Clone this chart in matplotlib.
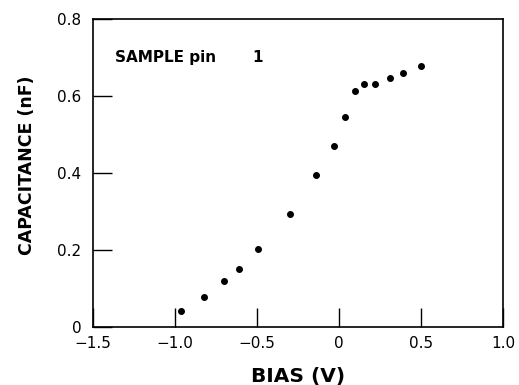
import numpy as np
import matplotlib.pyplot as plt

# data
bias = [-0.96, -0.82, -0.70, -0.61, -0.49, -0.30, -0.14, -0.03, 0.04,
        0.10, 0.15, 0.22, 0.31, 0.39, 0.50]
capacitance = [0.043, 0.080, 0.120, 0.151, 0.203, 0.294, 0.395, 0.472, 0.547,
               0.613, 0.632, 0.633, 0.648, 0.661, 0.679]

xticks = [-1.5, -1.0, -0.5, 0, 0.5, 1.0]
xticklabels = ['\u22121.5', '\u22121.0', '\u22120.5', '0', '0.5', '1.0']
yticks = [0, 0.2, 0.4, 0.6, 0.8]
yticklabels = ['0', '0.2', '0.4', '0.6', '0.8']

fig = plt.figure(figsize=(5.19, 3.85), dpi=100)
ax = fig.add_axes([0.1786, 0.1494, 0.7906, 0.8004])

ax.plot(bias, capacitance, 'o', color='black', markersize=4)

ax.set_xlim(-1.5, 1.0)
ax.set_ylim(0, 0.8)
ax.set_xticks(xticks)
ax.set_xticklabels(xticklabels, fontsize=11)
ax.set_yticks(yticks)
ax.set_yticklabels(yticklabels, fontsize=11)
ax.tick_params(direction='in', length=14, width=1)
ax.tick_params(axis='x', pad=6)
ax.tick_params(axis='y', pad=8)

for s in ax.spines.values():
    s.set_linewidth(1.2)

ax.set_xlabel('BIAS (V)', fontsize=14.5, fontweight='heavy', va='center')
ax.set_ylabel('CAPACITANCE (nF)', fontsize=12.5, fontweight='heavy', va='center')
ax.xaxis.set_label_coords(0.5, -0.16)
ax.yaxis.set_label_coords(-0.16, 0.527)

ax.text(-1.364, 0.701, 'SAMPLE pin', fontsize=11, fontweight='bold',
        ha='left', va='center')
ax.text(-0.498, 0.701, '1', fontsize=11, fontweight='bold',
        ha='center', va='center')

plt.savefig('out.png', dpi=100)
plt.close()
